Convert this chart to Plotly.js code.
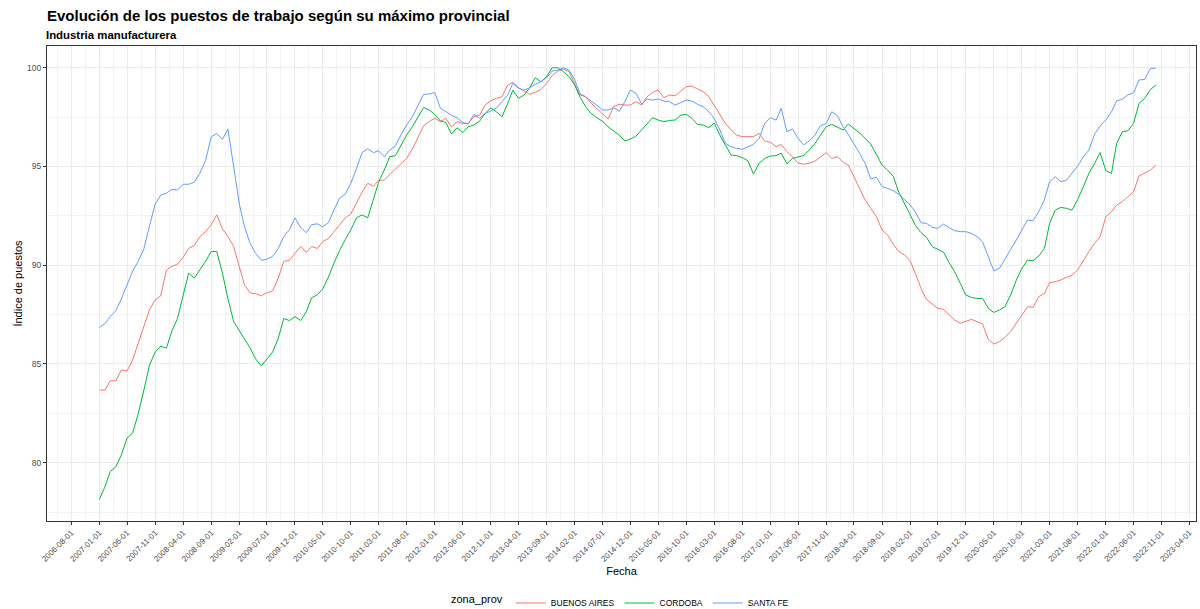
<!DOCTYPE html>
<html>
<head>
<meta charset="utf-8">
<script src="https://cdn.plot.ly/plotly-3.0.1.min.js"></script>
<style>html,body{margin:0;padding:0;background:#fff;}#chart{width:1200px;height:609px;}</style>
</head>
<body>
<div id="chart"></div>
<script>
// Monthly series from 2007-01 to 2022-10 (190 months)
const startYear = 2007, startMonth = 1, nMonths = 190;

const buenosAires = [
83.68, 83.68, 84.15, 84.15, 84.7, 84.65, 85.2, 86.05, 86.9, 87.75,
88.25, 88.45, 89.75, 89.95, 90.05, 90.4, 90.85, 91.0, 91.45, 91.7,
92.05, 92.55, 91.85, 91.45, 90.95, 89.95, 89.0, 88.6, 88.55, 88.45,
88.6, 88.7, 89.35, 90.2, 90.25, 90.6, 90.95, 90.65, 90.95, 90.85,
91.2, 91.35, 91.7, 92.05, 92.4, 92.6, 93.15, 93.7, 94.15, 94.0,
94.3,
94.31, 94.6, 94.87, 95.1, 95.41, 95.88, 96.42, 97.06, 97.27, 97.44,
97.27, 97.44, 97.0, 97.27, 97.18, 97.18, 97.52, 97.6, 98.11, 98.33,
98.45, 98.53, 99.12, 99.26, 98.99, 98.82, 98.65, 98.75, 98.9, 99.21,
99.6, 99.83, 99.93, 99.8, 99.21, 98.62, 98.53, 98.2, 97.94, 97.69,
97.4, 98.03, 98.15,
98.11, 98.11, 98.28, 98.11, 98.53, 98.75, 98.87, 98.48, 98.62, 98.58,
98.82, 99.04, 99.07, 98.92, 98.79, 98.53, 98.11, 97.64, 97.18, 96.85,
96.59, 96.51, 96.51, 96.51, 96.68, 96.29, 96.22, 96.0, 96.12, 95.75,
95.5, 95.16, 95.12, 95.16, 95.27, 95.5, 95.7, 95.41, 95.5, 95.21,
95.07, 94.48, 93.89, 93.3, 92.88, 92.46, 91.78, 91.53, 91.07, 90.69,
90.52, 90.23, 89.59, 88.83, 88.27, 88.03, 87.82, 87.77, 87.48, 87.23,
87.06, 87.14, 87.26, 87.14, 87.02, 86.25, 86.01, 86.13, 86.35, 86.64,
87.06, 87.53, 87.9, 87.87, 88.41, 88.57, 89.12, 89.17, 89.25, 89.39,
89.5, 89.76, 90.26, 90.69, 91.11, 91.45, 92.46, 92.71, 93.05, 93.22,
93.47, 93.72, 94.52, 94.65, 94.82, 95.07
];

const cordoba = [
78.14, 78.8, 79.55, 79.8, 80.4, 81.25, 81.5, 82.5, 83.7, 84.95,
85.6, 85.9, 85.8, 86.7, 87.3, 88.4, 89.6, 89.35, 89.75, 90.2,
90.7, 90.7, 89.6, 88.3, 87.15, 86.7, 86.3, 85.8, 85.25, 84.9,
85.25, 85.6, 86.3, 87.3, 87.2, 87.4, 87.2, 87.65, 88.35, 88.5,
88.8, 89.4, 90.1, 90.75, 91.3, 91.8, 92.4, 92.55, 92.4, 93.3,
94.2,
94.82, 95.5, 95.55, 96.09, 96.6, 97.01, 97.52, 97.99, 97.86, 97.64,
97.3, 97.23, 96.64, 96.96, 96.71, 97.01, 97.1, 97.3, 97.69, 97.97,
97.77, 97.52, 98.2, 98.87, 98.45, 98.62, 98.99, 99.49, 99.29, 99.55,
100.0, 100.0, 99.8, 99.55, 99.12, 98.53, 98.03, 97.69, 97.47, 97.3,
97.01, 96.79, 96.59,
96.29, 96.39, 96.54, 96.85, 97.18, 97.47, 97.35, 97.27, 97.33, 97.35,
97.6, 97.64, 97.44, 97.13, 97.1, 96.96, 97.2, 96.59, 96.09, 95.58,
95.55, 95.45, 95.28, 94.62, 95.16, 95.41, 95.53, 95.55, 95.67, 95.14,
95.41, 95.5, 95.55, 95.84, 96.17, 96.59, 97.01, 97.13, 97.01, 96.85,
97.15, 96.93, 96.71, 96.42, 96.14, 95.61, 95.07, 94.82, 94.5, 93.7,
93.13, 92.54, 92.03, 91.65, 91.41, 90.94, 90.8, 90.67, 90.13, 89.67,
89.08, 88.49, 88.37, 88.32, 88.32, 87.82, 87.61, 87.73, 87.9, 88.49,
89.25, 89.84, 90.26, 90.23, 90.47, 90.85, 92.12, 92.79, 92.93, 92.88,
92.79, 93.33, 93.98, 94.65, 95.16, 95.7, 94.79, 94.65, 96.17, 96.76,
96.81, 97.18, 98.2, 98.45, 98.9, 99.12
];

const santaFe = [
86.85, 87.05, 87.4, 87.7, 88.3, 89.0, 89.7, 90.2, 90.85, 92.0,
93.1, 93.55, 93.65, 93.85, 93.8, 94.1, 94.1, 94.2, 94.65, 95.3,
96.5, 96.67, 96.37, 96.9, 95.0, 93.1, 91.95, 91.1, 90.6, 90.25,
90.3, 90.45, 90.85, 91.45, 91.8, 92.4, 91.9, 91.65, 92.05, 92.1,
91.95, 92.15, 92.8, 93.4, 93.6, 94.15, 94.9, 95.7, 95.9, 95.7,
95.8,
95.5, 95.83, 96.05, 96.6, 97.1, 97.52, 98.11, 98.65, 98.67, 98.74,
97.95, 97.77, 97.6, 97.47, 97.23, 97.15, 97.64, 97.44, 97.69, 97.8,
97.95, 98.28, 98.62, 99.21, 98.96, 98.87, 98.99, 99.16, 99.3, 99.5,
99.83, 99.88, 100.0, 99.88, 99.38, 98.7, 98.53, 98.31, 98.11, 97.86,
97.86, 97.98, 97.8,
98.28, 98.87, 98.7, 98.15, 98.42, 98.36, 98.42, 98.31, 98.28, 98.11,
98.23, 98.36, 98.31, 98.15, 98.03, 97.77, 97.44, 96.85, 96.17, 96.0,
95.92, 95.87, 96.0, 96.12, 96.42, 97.18, 97.47, 97.35, 97.94, 96.76,
96.9, 96.42, 96.09, 96.29, 96.59, 97.06, 97.18, 97.77, 97.57, 97.01,
96.63, 96.17, 95.67, 95.16, 94.37, 94.45, 93.98, 93.89, 93.77, 93.59,
93.3, 93.05, 92.71, 92.15, 92.12, 91.92, 91.87, 92.08, 91.9, 91.75,
91.7, 91.7, 91.61, 91.44, 91.19, 90.43, 89.72, 89.84, 90.35, 90.8,
91.28, 91.78, 92.29, 92.25, 92.71, 93.33, 94.23, 94.48, 94.23, 94.31,
94.65, 95.02, 95.49, 95.83, 96.64, 97.05, 97.35, 97.77, 98.33, 98.4,
98.62, 98.73, 99.38, 99.41, 99.97, 99.97
];

const seriesNames = ['BUENOS AIRES', 'CORDOBA', 'SANTA FE'];

const xTickLabels = [
'2006-08-01','2007-01-01','2007-06-01','2007-11-01','2008-04-01','2008-09-01',
'2009-02-01','2009-07-01','2009-12-01','2010-05-01','2010-10-01','2011-03-01',
'2011-08-01','2012-01-01','2012-06-01','2012-11-01','2013-04-01','2013-09-01',
'2014-02-01','2014-07-01','2014-12-01','2015-05-01','2015-10-01','2016-03-01',
'2016-08-01','2017-01-01','2017-06-01','2017-11-01','2018-04-01','2018-09-01',
'2019-02-01','2019-07-01','2019-12-01','2020-05-01','2020-10-01','2021-03-01',
'2021-08-01','2022-01-01','2022-06-01','2022-11-01','2023-04-01'
];
const yTickVals = [80, 85, 90, 95, 100];
const yMinorVals = [77.5, 82.5, 87.5, 92.5, 97.5];

// build monthly date strings
const fechas = [];
for (let k = 0; k < nMonths; k++) {
  const m0 = (startMonth - 1) + k;
  const y = startYear + Math.floor(m0 / 12);
  const m = (m0 % 12) + 1;
  fechas.push(y + '-' + String(m).padStart(2, '0') + '-01');
}

// minor vertical gridlines: midpoints between ticks (plus one before first)
const tms = xTickLabels.map(s => Date.parse(s + 'T00:00:00Z'));
const xMinor = [];
const iso = t => new Date(t).toISOString().slice(0, 10);
xMinor.push(iso(tms[0] - (tms[1] - tms[0]) / 2));
for (let k = 0; k < tms.length - 1; k++) xMinor.push(iso((tms[k] + tms[k + 1]) / 2));

const colors = ['#F8766D', '#00BA38', '#619CFF'];
const values = [buenosAires, cordoba, santaFe];

const traces = seriesNames.map((n, k) => ({
  type: 'scatter', mode: 'lines', name: n,
  x: fechas, y: values[k],
  line: {color: colors[k], width: 1}
}));

const FONT = '"Liberation Sans", Arial, Helvetica, sans-serif';

const layout = {
  width: 1200, height: 609,
  margin: {l: 47, r: 4, t: 46, b: 88, autoexpand: false},
  paper_bgcolor: '#ffffff', plot_bgcolor: '#ffffff',
  font: {family: FONT, color: '#000000'},
  title: {
    text: '<b>Evolución de los puestos de trabajo según su máximo provincial</b>',
    font: {family: FONT, size: 15, color: '#000000'},
    x: 0, xref: 'paper', xanchor: 'left',
    y: 1 - 16 / 609, yref: 'container', yanchor: 'middle'
  },
  annotations: [{
    text: '<b>Industria manufacturera</b>',
    xref: 'paper', yref: 'paper', x: 0, y: (521 - 35) / 475,
    xanchor: 'left', yanchor: 'middle', showarrow: false, xshift: -3,
    font: {family: FONT, size: 11.4, color: '#000000'}
  }],
  xaxis: {
    type: 'date',
    range: ['2006-03-22', '2023-05-07'],
    tickmode: 'array', tickvals: xTickLabels, ticktext: xTickLabels,
    tickangle: -45,
    tickfont: {family: FONT, size: 8, color: '#4D4D4D'},
    ticks: 'outside', ticklen: 3, tickcolor: '#333333', tickwidth: 1,
    showgrid: true, gridcolor: '#EBEBEB', gridwidth: 1,
    minor: {tickmode: 'array', tickvals: xMinor, showgrid: true, gridcolor: '#F3F3F3', gridwidth: 1, ticks: ''},
    showline: true, mirror: true, linecolor: '#333333', linewidth: 1,
    zeroline: false, automargin: false,
    title: {text: 'Fecha', font: {family: FONT, size: 11, color: '#000000'}, standoff: 4}
  },
  yaxis: {
    range: [77.05, 101.1],
    tickmode: 'array', tickvals: yTickVals, ticktext: yTickVals.map(String),
    tickfont: {family: FONT, size: 8.5, color: '#4D4D4D'},
    ticks: 'outside', ticklen: 3, tickcolor: '#333333', tickwidth: 1,
    showgrid: true, gridcolor: '#EBEBEB', gridwidth: 1,
    minor: {tickmode: 'array', tickvals: yMinorVals, showgrid: true, gridcolor: '#F3F3F3', gridwidth: 1, ticks: ''},
    showline: true, mirror: true, linecolor: '#333333', linewidth: 1,
    zeroline: false, automargin: false,
    title: {text: 'Índice de puestos', font: {family: FONT, size: 11, color: '#000000'}, standoff: 2}
  },
  showlegend: true,
  legend: {
    orientation: 'h', x: 0.5, xanchor: 'center',
    yref: 'container', y: 1 - 603 / 609, yanchor: 'middle',
    font: {family: FONT, size: 8.5, color: '#000000'},
    title: {text: 'zona_prov', side: 'left', font: {family: FONT, size: 11, color: '#000000'}},
    itemwidth: 30, bgcolor: 'rgba(0,0,0,0)', tracegroupgap: 0
  }
};

Plotly.newPlot('chart', traces, layout, {staticPlot: true, displayModeBar: false});
</script>
</body>
</html>
